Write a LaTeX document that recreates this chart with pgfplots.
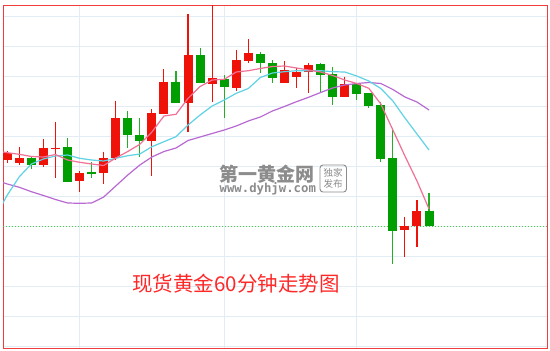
\documentclass[border=0pt]{standalone}
\usepackage{pgfplots}
\pgfplotsset{compat=1.18}
\usepackage{pgfplotstable}
\usepackage{fontspec}
\newfontfamily\cjk{Noto Sans CJK SC}
\setmonofont{DejaVu Sans Mono}
\definecolor{cred}{RGB}{238,18,8}
\definecolor{cgreen}{RGB}{0,158,0}
\definecolor{mapink}{RGB}{240,112,150}
\definecolor{macyan}{RGB}{95,210,228}
\definecolor{mapurple}{RGB}{185,105,210}
\definecolor{gridc}{RGB}{226,236,244}
\definecolor{framec}{RGB}{242,60,60}
\definecolor{dotg}{RGB}{80,200,80}
\definecolor{wm}{RGB}{140,140,140}
\definecolor{titlec}{RGB}{255,40,40}

% pixel-depth price levels (larger = lower price), per candle index
\pgfplotstableread{
i bt bb wt wb
0 153.3 160 151 163
1 158.3 163.3 147.3 165
3 147.7 165 139 166.7
4 147.5 149.3 121.7 177.7
6 172.7 181 171 191.7
8 158.3 173.3 151.7 184.3
9 118.3 158.3 100.7 160
12 113.3 140.7 109.3 175.7
13 81.7 114 69.3 114
15 55 102.7 14 132
17 78.3 84 2 101.7
19 60 87.7 50 90.7
20 53.3 60.7 39.3 63.3
23 70 83.3 61 83.3
24 71.7 76.7 67.7 88.3
25 65 72.3 63.3 93.3
28 84.3 96.7 76.7 96.7
33 225.7 230 216.7 256.7
34 210.7 225.7 200 246.7
}\redc

\pgfplotstableread{
i bt bb wt wb
2 157.7 165 156 169
5 147.3 181.7 137.7 182
7 171.7 173.7 162 177.7
10 118.3 135 111 148.3
11 135 140.7 118.3 156.7
14 81.7 102.7 71 102.7
16 55 83.3 48.3 83.3
18 78.7 86.7 75 118.3
21 54.3 62.7 51.7 73.3
22 63.3 78.3 60 82.7
26 64.3 75 63.3 93.3
27 74.3 96.7 66.7 105
29 84.3 93.8 83.3 100
30 93.3 106 93.3 107.7
31 105 159 101.7 162.3
32 157.7 231 127.7 264.3
35 210.7 225.7 193.3 225.7
}\greenc

\pgfplotstableread{
i pink cyan purple
-1 151 217 180
0 152.7 195 184
1 154.3 176.7 187.3
2 156.5 164 191.7
3 157 159 195.5
4 154.5 156 199.5
5 160 155 203
6 162.3 158.3 203.3
7 164 160 203
8 165.5 161 197
9 158 158.3 186
10 151.5 155.7 175
11 144.3 154 165
12 132 146.7 157
13 116 141.7 151.5
14 114.3 136.7 148
15 98.3 125 140.5
16 86.5 115 137
17 80 106 133.5
18 79.3 100 130
19 72 93.3 126
20 70.7 88.5 121
21 68.5 77.5 117
22 66.5 73 111
23 66 71.7 106.5
24 68 70.7 101.7
25 70 70.7 97.3
26 72 70.7 92.5
27 75.5 71.7 88
28 80 72 85
29 83.5 76 83.5
30 88.3 81 82.5
31 104 88.5 83.5
32 130 101 89.5
33 156 118 97
34 181 134 102
35 209 150 110
}\ma

\begin{document}
\begin{tikzpicture}
\fill[white] (-3pt,-3pt) rectangle (547pt,348pt);
\useasboundingbox (-3pt,-3pt) rectangle (547pt,348pt);
\begin{axis}[
  at={(0,0)}, anchor=south west,
  scale only axis, width=544pt, height=343pt,
  xmin=-0.357, xmax=44.79, ymin=5, ymax=348, y dir=reverse,
  axis line style={framec, line width=1pt},
  xtick={6,18,29},
  ytick={16.7,46.7,76.7,106.7,136.7,166.7,196.7,226.7,256.7,286.7,316.7,346.7},
  xticklabels={}, yticklabels={},
  major tick length=0pt,
  grid=major, major grid style={gridc, line width=0.9pt},
  clip=true,
]
% last price reference line
\addplot[dotg, line width=1pt, dash pattern=on 1.2pt off 1.8pt] coordinates {(-0.357,226) (44.79,226)};
% wicks
\addplot[draw=none, mark=none, error bars/.cd, y dir=plus, y explicit, error mark=none,
  error bar style={draw=cred, line width=1.1pt}]
  table[x=i, y=wt, y error plus expr=\thisrow{wb}-\thisrow{wt}] {\redc};
\addplot[draw=none, mark=none, error bars/.cd, y dir=plus, y explicit, error mark=none,
  error bar style={draw=cgreen!85!white, line width=1.1pt}]
  table[x=i, y=wt, y error plus expr=\thisrow{wb}-\thisrow{wt}] {\greenc};
% bodies
\addplot[draw=none, mark=none, error bars/.cd, y dir=plus, y explicit, error mark=none,
  error bar style={draw=cred, line width=9pt}]
  table[x=i, y=bt, y error plus expr=\thisrow{bb}-\thisrow{bt}] {\redc};
\addplot[draw=none, mark=none, error bars/.cd, y dir=plus, y explicit, error mark=none,
  error bar style={draw=cgreen, line width=9pt}]
  table[x=i, y=bt, y error plus expr=\thisrow{bb}-\thisrow{bt}] {\greenc};
% moving averages
\addplot[mapurple, line width=1.2pt, mark=none] table[x=i, y=purple] {\ma};
\addplot[macyan, line width=1.2pt, mark=none] table[x=i, y=cyan] {\ma};
\addplot[mapink, line width=1.2pt, mark=none] table[x=i, y=pink] {\ma};
\end{axis}
% watermark
\node[wm, font=\cjk\bfseries\fontsize{19}{19}\selectfont, inner sep=0pt] at (263.7pt,174pt) {第一黄金网};
\node[wm, font=\ttfamily\bfseries\fontsize{12.3}{12}\selectfont, inner sep=0pt] at (264.8pt,159.5pt) {www.dyhjw.com};
\draw[wm, line width=0.9pt, rounded corners=3pt] (317pt,156pt) rectangle (343.5pt,183pt);
\node[wm, font=\cjk\fontsize{9.5}{10.5}\selectfont, inner sep=0pt, align=center] at (330.2pt,169.5pt) {独家\\发布};
% title
\node[titlec, font=\cjk\fontsize{20.5}{20.5}\selectfont, inner sep=0pt] at (233pt,64pt) {现货黄金60分钟走势图};
\end{tikzpicture}
\end{document}
